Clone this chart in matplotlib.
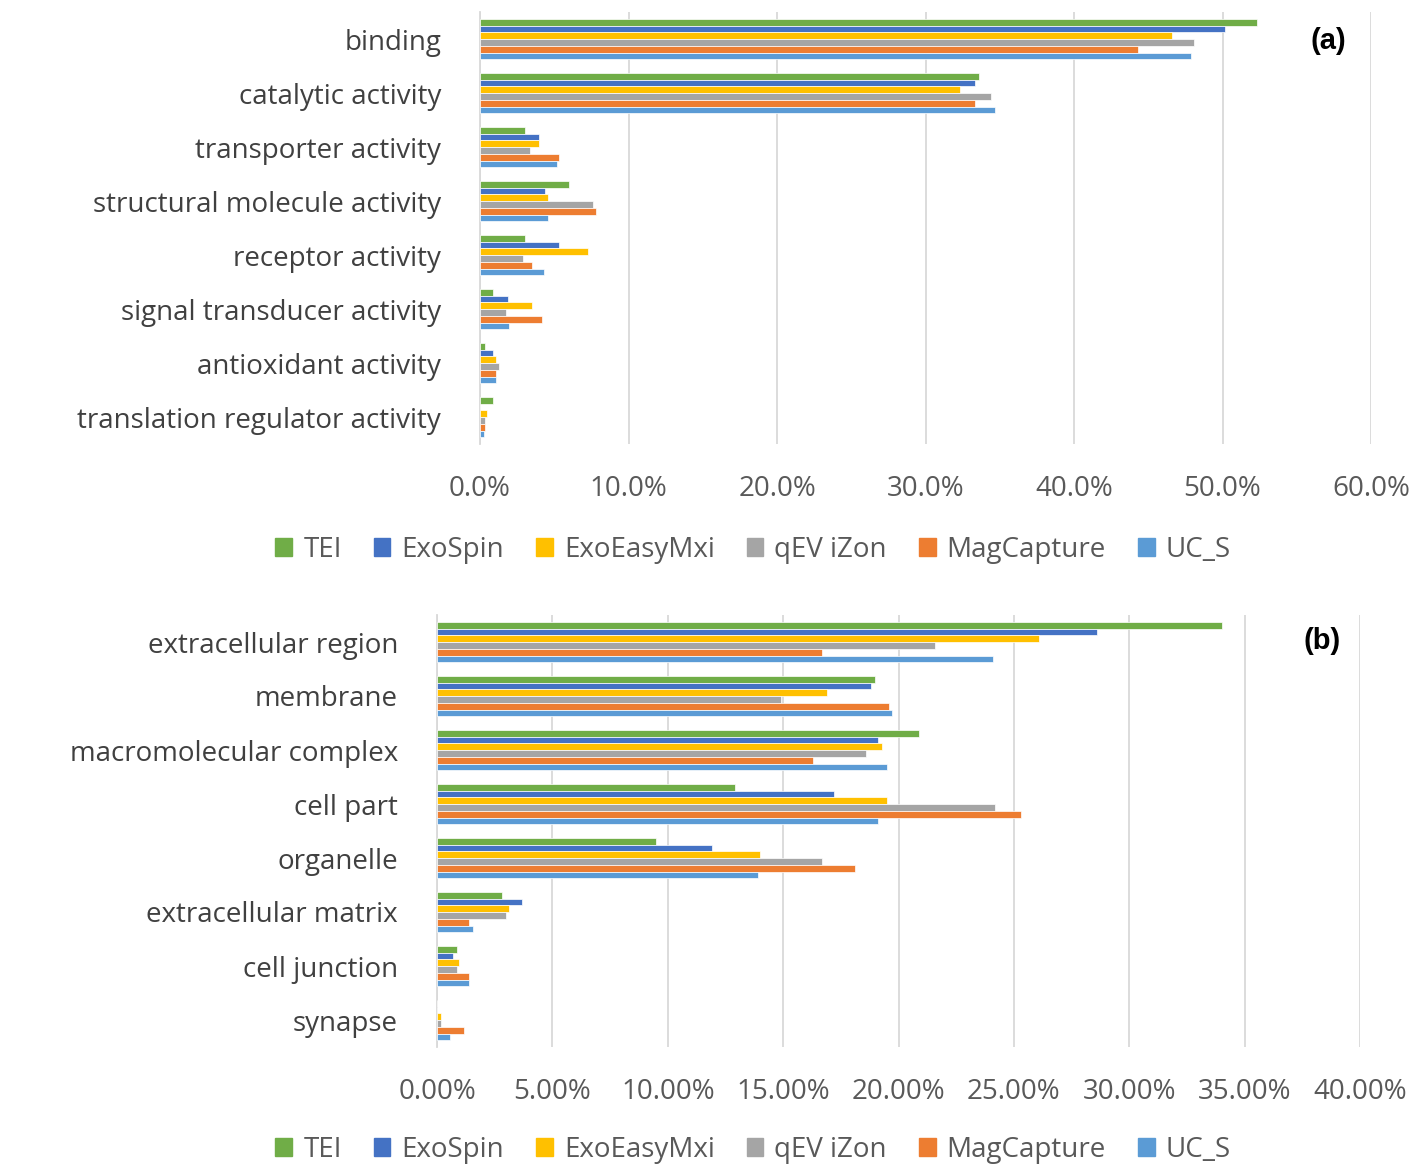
import matplotlib
matplotlib.use('Agg')
import matplotlib.pyplot as plt
import numpy as np
from matplotlib.patches import Patch

plt.rcParams['font.family'] = ['Open Sans', 'DejaVu Sans']

series = ['TEI', 'ExoSpin', 'ExoEasyMxi', 'qEV iZon', 'MagCapture', 'UC_S']
colors = ['#70AD47', '#4472C4', '#FFC000', '#A5A5A5', '#ED7D31', '#5B9BD5']

# (a) molecular function, percent
cats_a = ['binding', 'catalytic activity', 'transporter activity',
          'structural molecule activity', 'receptor activity',
          'signal transducer activity', 'antioxidant activity',
          'translation regulator activity']
tei_a = [52.3, 33.6, 3.0, 6.0, 3.0, 0.86, 0.36, 0.86]
exospin_a = [50.2, 33.3, 4.0, 4.4, 5.3, 1.87, 0.86, 0.0]
exoeasy_a = [46.6, 32.3, 4.0, 4.6, 7.3, 3.5, 1.06, 0.45]
qev_a = [48.1, 34.4, 3.4, 7.6, 2.9, 1.76, 1.26, 0.36]
mag_a = [44.3, 33.3, 5.3, 7.8, 3.5, 4.2, 1.06, 0.36]
ucs_a = [47.9, 34.7, 5.2, 4.6, 4.3, 1.96, 1.06, 0.27]

# (b) cellular component, percent
cats_b = ['extracellular region', 'membrane', 'macromolecular complex',
          'cell part', 'organelle', 'extracellular matrix',
          'cell junction', 'synapse']
tei_b = [34.0, 19.0, 20.9, 12.9, 9.5, 2.8, 0.87, 0.0]
exospin_b = [28.6, 18.8, 19.1, 17.2, 11.9, 3.7, 0.68, 0.0]
exoeasy_b = [26.1, 16.9, 19.3, 19.5, 14.0, 3.1, 0.97, 0.19]
qev_b = [21.6, 14.9, 18.6, 24.2, 16.7, 3.0, 0.87, 0.16]
mag_b = [16.7, 19.6, 16.3, 25.3, 18.1, 1.38, 1.38, 1.18]
ucs_b = [24.1, 19.7, 19.5, 19.1, 13.9, 1.58, 1.38, 0.57]

W, H = 1413, 1168
fig = plt.figure(figsize=(W / 100, H / 100), dpi=100)
FS = 20


def panel(rect, cats, data, xmax, step, fmt, tag, tagx, tagy, legy):
    ax = fig.add_axes(rect)
    y = np.arange(len(cats))
    bh = 0.125
    for j, vals in enumerate(data):
        ax.barh(y - 2.5 * bh + j * bh, vals, height=bh, color=colors[j],
                edgecolor='white', linewidth=0.5, zorder=3)
    ax.set_ylim(len(cats) - 0.5, -0.5)
    ax.set_xlim(0, xmax)
    ax.set_xticks(np.arange(0, xmax + step / 2, step))
    ax.set_xticklabels([fmt % v for v in np.arange(0, xmax + step / 2, step)])
    ax.set_yticks(y)
    ax.set_yticklabels(cats)
    ax.tick_params(axis='x', length=0, pad=22, labelsize=FS, labelcolor='#595959')
    ax.tick_params(axis='y', length=0, pad=28, labelsize=FS, labelcolor='#404040')
    ax.grid(axis='x', color='#D9D9D9', linewidth=1.3, zorder=0)
    for s in ['top', 'right', 'bottom']:
        ax.spines[s].set_visible(False)
    ax.spines['left'].set_color('#D9D9D9')
    ax.spines['left'].set_linewidth(1.3)
    fig.text(tagx / W, 1 - tagy / H, tag, fontsize=21, fontweight='bold',
             family='Liberation Sans', ha='center', va='center')
    handles = [Patch(color=c, label=s) for c, s in zip(colors, series)]
    fig.legend(handles=handles, loc='center', bbox_to_anchor=(0.533, 1 - legy / H),
               ncol=6, frameon=False, fontsize=FS, labelcolor='#595959',
               handlelength=0.6, handleheight=0.6, handletextpad=0.4,
               columnspacing=1.15)
    return ax


panel([480 / W, 1 - 444 / H, 891 / W, 432 / H], cats_a,
      [tei_a, exospin_a, exoeasy_a, qev_a, mag_a, ucs_a],
      60, 10, '%.1f%%', '(a)', 1328, 41, 550)
panel([437 / W, 1 - 1047 / H, 923 / W, 432 / H], cats_b,
      [tei_b, exospin_b, exoeasy_b, qev_b, mag_b, ucs_b],
      40, 5, '%.2f%%', '(b)', 1322, 641, 1150)

plt.savefig('out.png', dpi=100)
